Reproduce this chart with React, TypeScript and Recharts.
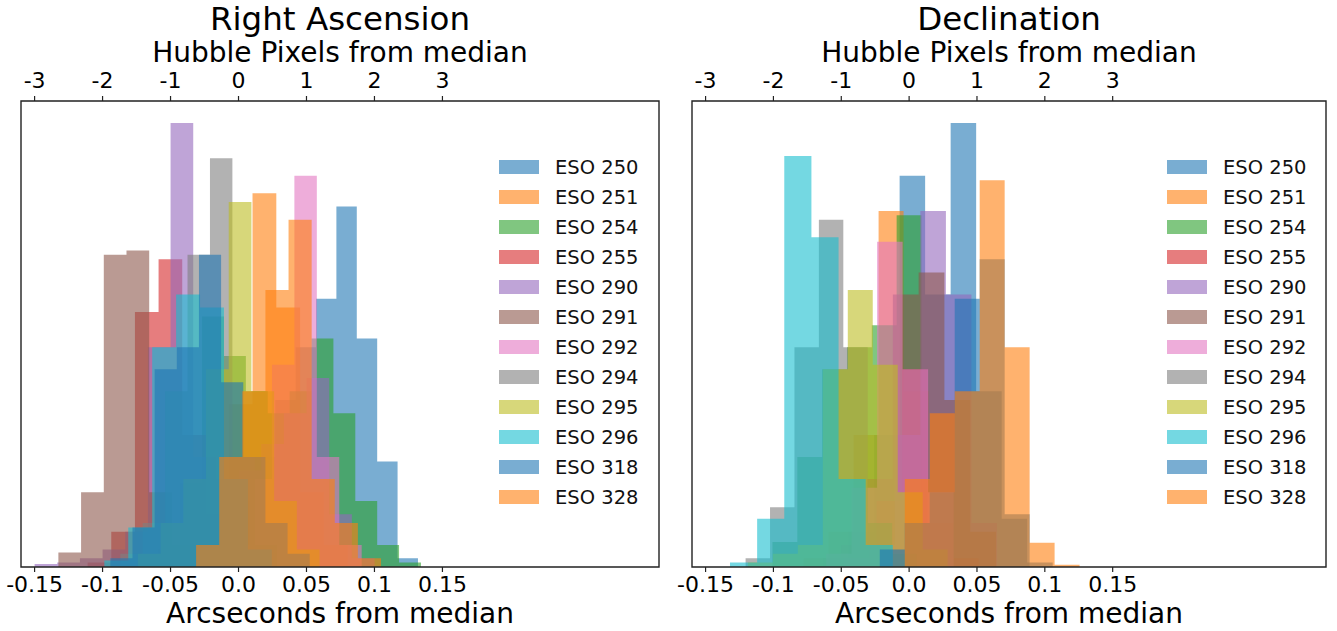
import React from "react"
import { Area, ComposedChart, Legend, ReferenceArea, XAxis, YAxis } from "recharts"

const FONT = "'DejaVu Sans', sans-serif"

const names = [
  "ESO 250", "ESO 251", "ESO 254", "ESO 255", "ESO 290", "ESO 291",
  "ESO 292", "ESO 294", "ESO 295", "ESO 296", "ESO 318", "ESO 328",
]
const colors = [
  "#1f77b4", "#ff7f0e", "#2ca02c", "#d62728", "#9467bd", "#8c564b",
  "#e377c2", "#7f7f7f", "#bcbd22", "#17becf", "#1f77b4", "#ff7f0e",
]

const arcTicks = [-0.15, -0.1, -0.05, 0, 0.05, 0.1, 0.15]
const arcTickLabels = ["-0.15", "-0.1", "-0.05", "0.0", "0.05", "0.1", "0.15"]
const pixelTickLabels = ["-3", "-2", "-1", "0", "1", "2", "3"]

// right ascension: first bin edge, bin width, counts per bin
const raStarts = [-0.033, -0.0597, -0.059, -0.111, -0.15, -0.1325, -0.0084, -0.087, -0.074, -0.0987, -0.0943, -0.0312]
const raWidths = [0.015, 0.0175, 0.0161, 0.0174, 0.01667, 0.0167, 0.0165, 0.0165, 0.0167, 0.0176, 0.0163, 0.017]
const raCounts = [
  [3, 8, 15, 25, 38, 50, 61, 82, 52, 24, 2],
  [2, 8, 20, 37, 85, 59, 17, 5],
  [4, 19, 57, 48, 40, 35, 40, 52, 35, 15, 5, 1],
  [1, 8, 58, 70, 30, 12, 5, 2],
  [0.7, 1, 2, 4, 8, 50, 101, 25, 20, 22, 28, 35, 43, 12, 2],
  [3.3, 17, 71, 72, 17, 5, 1],
  [5, 20, 46, 89, 25, 5],
  [3, 10, 40, 71, 93, 25, 5],
  [3, 10, 20, 45, 83, 40, 15, 4],
  [1.5, 9, 50, 62, 59, 20, 4],
  [2, 9, 45, 50, 71, 42, 25, 10, 3],
  [5, 25, 40, 63, 79, 20, 10, 2],
]

// declination
const decStarts = [-0.0634, -0.0777, -0.1007, -0.024, -0.0481, -0.05, -0.0612, -0.1205, -0.1188, -0.132, -0.0216, -0.0032]
const decWidths = [0.0188, 0.0184, 0.0183, 0.0188, 0.0188, 0.019, 0.0188, 0.018, 0.0184, 0.02, 0.0184, 0.0184]
const decCounts = [
  [2, 8, 30, 89, 62, 101, 40, 11, 1],
  [2, 8, 30, 81, 40, 10, 2],
  [5.7, 25, 45, 50, 55, 80, 5],
  [15, 45, 10, 2],
  [2, 5, 30, 81, 62, 10],
  [5, 20, 62, 67, 38, 8],
  [3, 18, 74, 45, 17],
  [2, 13.6, 50, 79, 50, 10, 3],
  [1, 3, 5, 45, 63, 46, 17, 4],
  [1, 11, 93.5, 75, 20, 5],
  [4, 10, 17, 61, 70, 12],
  [20, 35, 40, 88, 50, 5.5, 0.5],
]

const buildTable = (starts: number[], widths: number[], counts: number[][]) => {
  const xs = new Set<number>()
  counts.forEach((c, i) => {
    for (let j = 0; j <= c.length; j++) xs.add(Math.round((starts[i] + j * widths[i]) * 1e6) / 1e6)
  })
  return Array.from(xs)
    .sort((a, b) => a - b)
    .map((x) => {
      const row: any = { x }
      counts.forEach((c, i) => {
        const j = Math.floor((x - starts[i]) / widths[i] + 1e-6)
        row[`s${i}`] = j >= 0 && j < c.length ? c[j] : 0
      })
      return row
    })
}

const LegendBox = () => (
  <div style={{ fontFamily: FONT, fontSize: 19.5, color: "#111" }}>
    {names.map((n, i) => (
      <div key={n + i} style={{ display: "flex", alignItems: "center", height: 30 }}>
        <span style={{ width: 40, height: 14, background: colors[i], opacity: 0.6, marginRight: 16 }} />
        <span>{n}</span>
      </div>
    ))}
  </div>
)

interface PanelProps {
  title: string
  starts: number[]
  widths: number[]
  counts: number[][]
  left: number
  width: number
  marginRight: number
  xMax: number
  legendLeft: number
}

const Panel = ({ title, starts, widths, counts, left, width, marginRight, xMax, legendLeft }: PanelProps) => {
  const data = buildTable(starts, widths, counts)
  const plotW = width - 21 - marginRight
  const textBase = { position: "absolute" as const, left: 21, width: plotW, textAlign: "center" as const, fontFamily: FONT, color: "#000", lineHeight: 1, whiteSpace: "nowrap" as const }
  const tickStyle = { fill: "#000", fontSize: 22, fontFamily: FONT }
  return (
    <div style={{ position: "absolute", left, top: 0, width, height: 631 }}>
      <ComposedChart width={width} height={631} data={data} margin={{ top: 61, right: marginRight, bottom: 34, left: 21 }}>
        <XAxis
          xAxisId="b"
          dataKey="x"
          type="number"
          domain={[-0.16, xMax]}
          allowDataOverflow
          ticks={arcTicks}
          tickFormatter={(v, i) => arcTickLabels[i]}
          height={30}
          tickSize={5}
          tickMargin={4}
          tick={tickStyle}
          axisLine={false}
          tickLine={{ stroke: "#222", strokeWidth: 1.2 }}
        />
        <XAxis
          xAxisId="t"
          dataKey="x"
          orientation="top"
          type="number"
          domain={[-0.16, xMax]}
          allowDataOverflow
          ticks={arcTicks}
          tickFormatter={(v, i) => pixelTickLabels[i]}
          height={40}
          tickSize={5}
          tickMargin={8}
          tick={tickStyle}
          axisLine={false}
          tickLine={{ stroke: "#222", strokeWidth: 1.2 }}
        />
        <YAxis yAxisId="l" type="number" domain={[0, 106]} allowDataOverflow hide />
        <YAxis yAxisId="r" orientation="right" type="number" domain={[0, 106]} allowDataOverflow hide />
        {names.map((n, i) => (
          <Area
            key={`${n}-${i}`}
            xAxisId="b"
            yAxisId="l"
            type="stepAfter"
            dataKey={`s${i}`}
            name={n}
            fill={colors[i]}
            fillOpacity={0.6}
            stroke="none"
            dot={false}
            activeDot={false}
            isAnimationActive={false}
          />
        ))}
        {/* keeps the top pixel axis and right axis tied to the data */}
        <Area xAxisId="t" yAxisId="r" type="stepAfter" dataKey="s0" fill="none" fillOpacity={0} stroke="none" dot={false} activeDot={false} isAnimationActive={false} legendType="none" />
        <ReferenceArea xAxisId="b" yAxisId="l" x1={-0.16} x2={xMax} y1={0} y2={106} fill="none" fillOpacity={0} stroke="#222" strokeWidth={1.4} ifOverflow="visible" />
        <Legend
          layout="vertical"
          align="center"
          verticalAlign="middle"
          content={() => <LegendBox />}
          wrapperStyle={{ left: legendLeft, top: 152, width: 150, height: 360 }}
        />
      </ComposedChart>
      <div style={{ ...textBase, top: 3, fontSize: 32.5 }}>{title}</div>
      <div style={{ ...textBase, top: 39, fontSize: 28 }}>Hubble Pixels from median</div>
      <div style={{ ...textBase, top: 600, fontSize: 28 }}>Arcseconds from median</div>
    </div>
  )
}

export default function App() {
  return (
    <div style={{ position: "absolute", left: 0, top: 0, width: 1337, height: 631, background: "#fff" }}>
      <Panel title="Right Ascension" starts={raStarts} widths={raWidths} counts={raCounts} left={0} width={680} marginRight={21} xMax={0.3093} legendLeft={499} />
      <Panel title="Declination" starts={decStarts} widths={decWidths} counts={decCounts} left={671} width={666} marginRight={11} xMax={0.3072} legendLeft={496} />
    </div>
  )
}
